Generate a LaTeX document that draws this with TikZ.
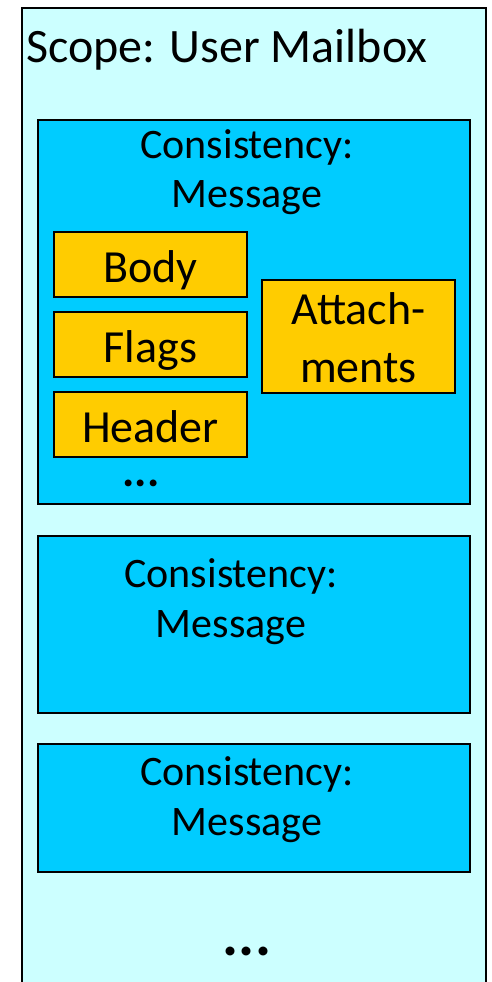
\documentclass[tikz,border=0pt]{standalone}
\usepackage{fontspec}
\setmainfont{Carlito}
\definecolor{scopefill}{HTML}{CCFFFF}
\definecolor{consfill}{HTML}{00CCFF}
\definecolor{partfill}{HTML}{FFCC00}
\begin{document}
\begin{tikzpicture}[x=1pt,y=-1pt,
  consbox/.style={draw=black,line width=1.8pt,fill=consfill},
  partbox/.style={draw=black,line width=1.8pt,fill=partfill},
  constext/.style={anchor=base,inner sep=0pt,font=\fontsize{42}{50}\selectfont},
  parttext/.style={anchor=base,inner sep=0pt,font=\fontsize{46}{55}\selectfont},
  titletext/.style={anchor=base west,inner sep=0pt,font=\fontsize{48}{55}\selectfont}]
\useasboundingbox (0,0) rectangle (491,982);
% outer scope
\fill[scopefill] (22,8) rectangle (486,990);
\draw[line width=1.8pt] (22,990) -- (22,8) -- (486,8) -- (486,990);
\node[titletext] (title) at (26,63) {Scope: User Mailbox};
% consistency box 1
\draw[consbox] (38,120) rectangle (470,504);
\node[constext] (c1a) at (247,158) {Consistency:};
\node[constext] (c1b) at (247,207) {Message};
\draw[partbox] (54,232) rectangle (247,297);
\node[parttext] (body) at (150.5,282) {Body};
\draw[partbox] (54,312) rectangle (247,377);
\node[parttext] (flags) at (150.5,362) {Flags};
\draw[partbox] (54,392) rectangle (247,457);
\node[parttext] (header) at (150.5,442) {Header};
\draw[partbox] (262,280) rectangle (455,393);
\node[parttext] (att1) at (358.5,324) {Attach-};
\node[parttext] (att2) at (358.5,382) {ments};
\node[anchor=base,inner sep=0pt,font=\bfseries\fontsize{46}{46}\selectfont] (dots1) at (141,486) {...};
% consistency box 2
\draw[consbox] (38,536) rectangle (470,713);
\node[constext] (c2a) at (231,587) {Consistency:};
\node[constext] (c2b) at (231,637) {Message};
% consistency box 3
\draw[consbox] (38,744) rectangle (470,872);
\node[constext] (c3a) at (247,785) {Consistency:};
\node[constext] (c3b) at (247,835) {Message};
% bottom dots
\node[anchor=base,inner sep=0pt,font=\bfseries\fontsize{60}{60}\selectfont] (dots2) at (247,955) {...};
\end{tikzpicture}
\end{document}
